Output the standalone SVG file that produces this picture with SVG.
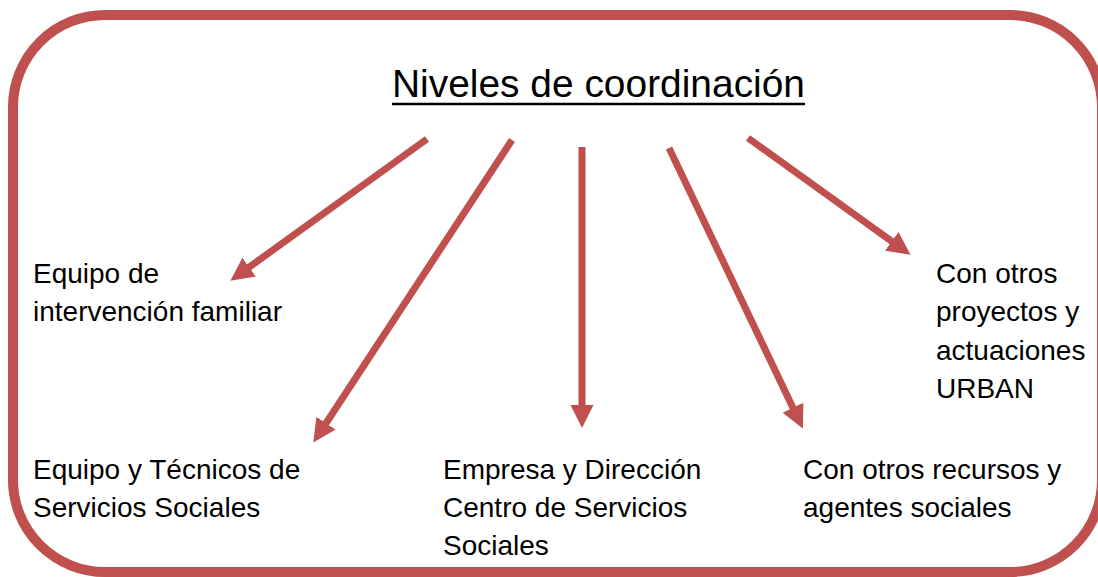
<svg xmlns="http://www.w3.org/2000/svg" width="1098" height="577" viewBox="0 0 1098 577">
<style>
.frame{fill:#fff;stroke:#C0504D;stroke-width:10}
.arr{stroke:#C0504D;stroke-width:7;fill:none;marker-end:url(#head)}
.t{font-family:"Liberation Sans",Arial,sans-serif;font-size:28px;fill:#000}
.title{font-family:"Liberation Sans",Arial,sans-serif;font-size:39px;fill:#000}
</style>
<defs>
<marker id="head" viewBox="0 0 10 10" refX="3" refY="5" markerWidth="3.3" markerHeight="3.3" orient="auto" markerUnits="strokeWidth">
<path d="M0,0 L10,5 L0,10 z" fill="#C0504D"/>
</marker>
</defs>
<rect width="1098" height="577" fill="#fff"/>
<rect id="frame" class="frame" x="13" y="15" width="1089" height="557" rx="92" ry="92"/>
<g id="title">
<text class="title" x="392" y="97" textLength="413" lengthAdjust="spacingAndGlyphs">Niveles de coordinación</text>
<line x1="392" y1="104" x2="805" y2="104" stroke="#000" stroke-width="2.5"/>
</g>
<g id="connectors">
<line class="arr" x1="427" y1="139" x2="243.5" y2="271.2"/>
<line class="arr" x1="512" y1="140" x2="322.2" y2="429"/>
<line class="arr" x1="582" y1="147" x2="582" y2="411.8"/>
<line class="arr" x1="669" y1="148" x2="795.9" y2="413.9"/>
<line class="arr" x1="748" y1="138" x2="897.4" y2="245.3"/>
</g>
<g id="n1">
<text class="t" x="33" y="283">Equipo de</text>
<text class="t" x="33" y="321">intervención familiar</text>
</g>
<g id="n2">
<text class="t" x="33" y="479">Equipo y Técnicos de</text>
<text class="t" x="33" y="517">Servicios Sociales</text>
</g>
<g id="n3">
<text class="t" x="443" y="479">Empresa y Dirección</text>
<text class="t" x="443" y="517">Centro de Servicios</text>
<text class="t" x="443" y="555">Sociales</text>
</g>
<g id="n4">
<text class="t" x="803" y="479">Con otros recursos y</text>
<text class="t" x="803" y="517">agentes sociales</text>
</g>
<g id="n5">
<text class="t" x="936" y="283">Con otros</text>
<text class="t" x="936" y="321">proyectos y</text>
<text class="t" x="936" y="360">actuaciones</text>
<text class="t" x="936" y="398">URBAN</text>
</g>
</svg>
